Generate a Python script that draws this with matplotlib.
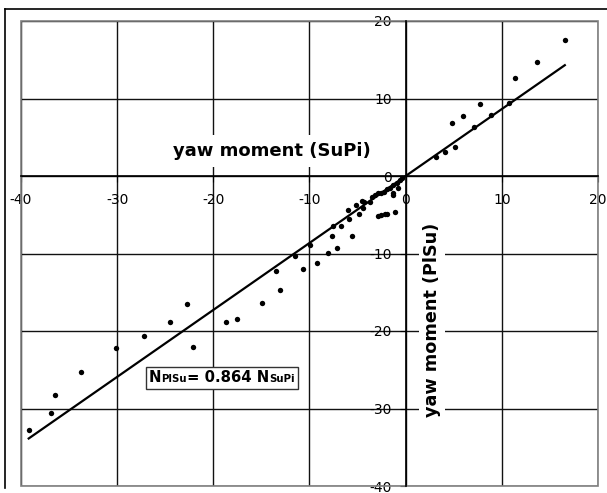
import matplotlib
matplotlib.use("Agg")
import matplotlib.pyplot as plt
from matplotlib.lines import Line2D
from matplotlib.offsetbox import TextArea, HPacker, AnnotationBbox

# measured values (yaw moment, SuPi vs PlSu)
supi = [3.17, 4.04, 5.08, 4.80, 5.91, 7.09, 7.74, 8.85, 10.79, 11.35, 13.7, 16.55,
        -39.2, -36.9, -36.5, -33.8, -30.1, -27.2, -24.5, -22.7, -22.1, -18.7,
        -17.5, -14.9, -13.1, -13.5, -11.5, -10.7, -9.9, -9.2, -8.06,
        -7.7, -7.1, -5.6, -7.6, -6.7,
        -6.0, -5.87, -5.18, -4.9, -4.5, -4.45, -4.3, -3.66, -3.45, -3.17,
        -2.9, -2.6, -2.27, -1.95, -1.6, -1.27, -0.92, -0.57, -0.4,
        -1.33, -1.27, -0.8, -2.9, -2.6, -2.2, -1.95, -1.16]
plsu = [2.49, 3.06, 3.78, 6.84, 7.78, 6.28, 9.33, 7.87, 9.38, 12.6, 14.67, 17.6,
        -32.8, -30.6, -28.3, -25.3, -22.2, -20.7, -18.9, -16.5, -22.0, -18.9,
        -18.4, -16.4, -14.7, -12.3, -10.3, -12.0, -8.9, -11.2, -9.94,
        -7.8, -9.25, -7.8, -6.4, -6.5,
        -4.4, -5.5, -3.8, -4.9, -3.2, -4.1, -3.4, -3.3, -2.7, -2.4,
        -2.2, -2.2, -2.0, -1.7, -1.5, -1.16, -0.86, -0.5, -0.3,
        -2.15, -2.45, -1.6, -5.1, -5.0, -4.9, -4.86, -4.6]
slope = 0.864
ticks = [-40, -30, -20, -10, 0, 10, 20]

W, H = 607, 493
fig = plt.figure(figsize=(W / 100, H / 100), dpi=100)
ax = fig.add_axes([21 / W, 7 / H, 577 / W, 465 / H])

ax.set_xlim(-40, 20)
ax.set_ylim(-40, 20)
ax.set_xticks(ticks)
ax.set_yticks(ticks)

# grid
for t in ticks:
    ax.axvline(t, color="#111111", lw=1.0, zorder=1)
    ax.axhline(t, color="#111111", lw=1.0, zorder=1)

# axes crossing at the origin
ax.spines["left"].set_position(("data", 0))
ax.spines["bottom"].set_position(("data", 0))
ax.spines["top"].set_visible(False)
ax.spines["right"].set_visible(False)
for s in ["left", "bottom"]:
    ax.spines[s].set_color("black")
    ax.spines[s].set_linewidth(1.2)
ax.add_patch(plt.Rectangle((0, 0), 1, 1, transform=ax.transAxes, fill=False,
                           edgecolor="#7f7f7f", lw=1.2, zorder=2, clip_on=False))

ax.tick_params(axis="x", direction="out", length=4, pad=8, labelsize=10)
ax.tick_params(axis="y", direction="out", length=4, pad=6, labelsize=10)
ax.set_xticklabels([str(t) for t in ticks])
ax.set_yticklabels([str(t) for t in ticks])
for lab in ax.get_yticklabels():
    lab.set_verticalalignment("center_baseline")

# data + regression line
ax.scatter(supi, plsu, s=15, color="black", zorder=4, linewidths=0)
xmin, xmax = min(supi), max(supi)
ax.plot([xmin, xmax], [slope * xmin, slope * xmax], color="black", lw=1.6, zorder=3)

ax.text(-13.9, 3.2, "yaw moment (SuPi)", fontsize=13, fontweight="bold",
        ha="center", va="center", zorder=5,
        bbox=dict(facecolor="white", edgecolor="none", pad=5))
ax.text(2.75, -18.6, "yaw moment (PlSu)", fontsize=12.7, fontweight="bold",
        ha="center", va="center", rotation=90, zorder=5,
        bbox=dict(facecolor="white", edgecolor="none", pad=3))

big = dict(fontsize=10.7, fontweight="bold", color="black")
small = dict(fontsize=7.3, fontweight="bold", color="black")
parts = [TextArea("N", textprops=big), TextArea("PlSu", textprops=small),
         TextArea("= 0.864 N", textprops=big), TextArea("SuPi", textprops=small)]
pack = HPacker(children=parts, align="baseline", pad=0, sep=0)
ab = AnnotationBbox(pack, (-19.1, -26.06), xycoords="data", frameon=True,
                    pad=0.25, zorder=6)
ab.patch.set_edgecolor("#333333")
ab.patch.set_linewidth(1.0)
ax.add_artist(ab)

# outer chart frame
fig.add_artist(Line2D([5 / W, 1], [1 - 9 / H, 1 - 9 / H], color="black", lw=1.2))
fig.add_artist(Line2D([5 / W, 5 / W], [1 - 9 / H, 1 - 488 / H], color="black", lw=1.2))

fig.savefig("out.png", dpi=100)
